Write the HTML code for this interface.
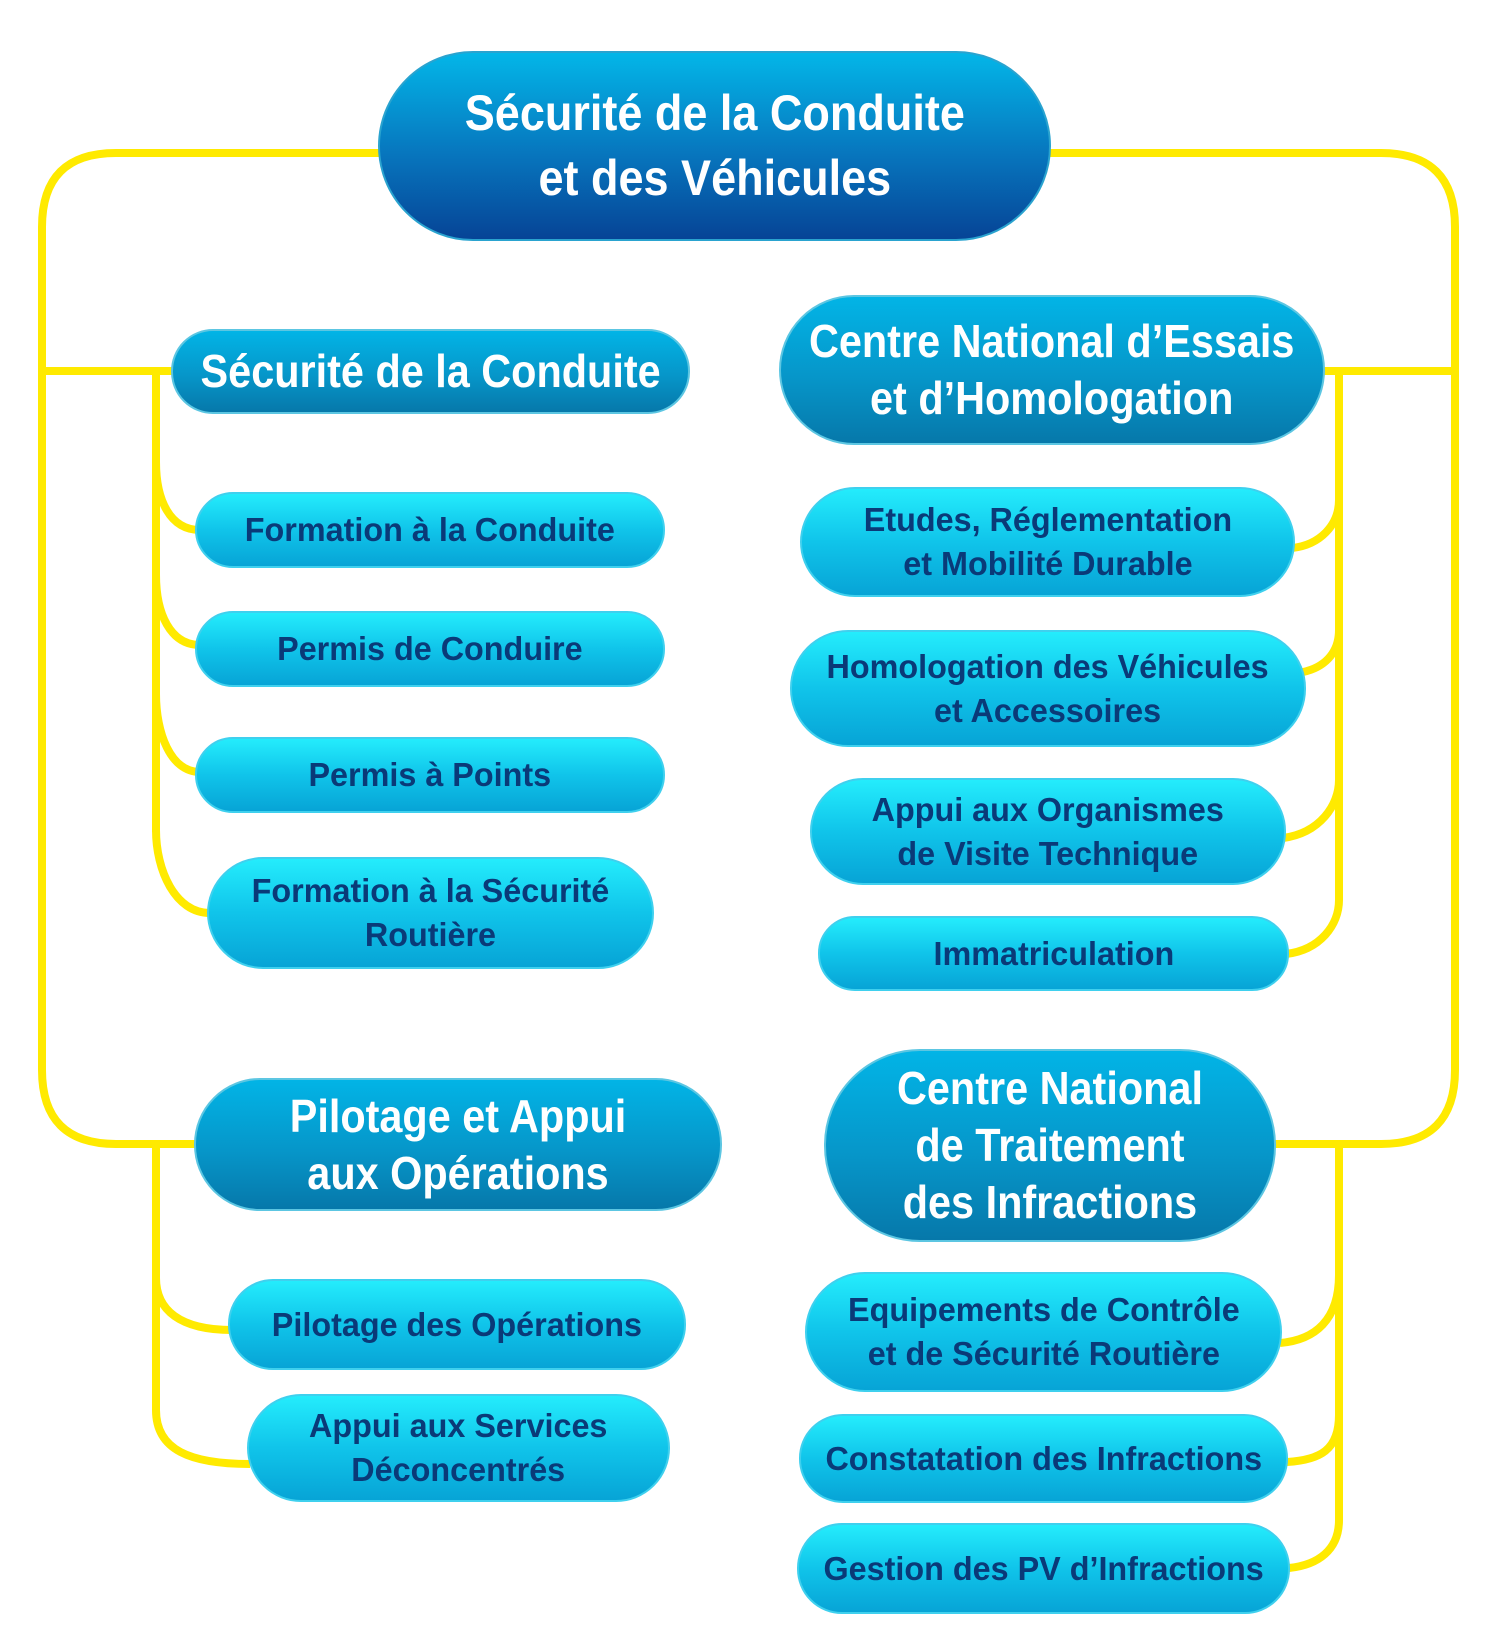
<!DOCTYPE html>
<html><head><meta charset="utf-8"><style>
html,body{margin:0;padding:0;background:#fff;}
body{width:1489px;height:1648px;position:relative;overflow:hidden;font-family:"Liberation Sans",sans-serif;}
.n{position:absolute;display:flex;align-items:center;justify-content:center;text-align:center;box-sizing:border-box;font-weight:bold;}
.n span{display:inline-block;white-space:nowrap;}
.root span,.l1 span{transform:scaleX(0.9);}
.root{background:linear-gradient(#03b6e8,#0775bd 55%,#064496);color:#fff;border:2px solid #2aa3cf;font-size:50px;line-height:65px;}
.l1{background:linear-gradient(#02b4e6,#0696c9 55%,#0678aa);color:#fff;border:2px solid #5cc6e2;font-size:46px;line-height:57px;}
.c{background:linear-gradient(#24ecfc,#10c4ea 50%,#07a4d6);color:#0a3a78;border:2px solid #3fd0ee;font-size:33px;line-height:44px;}
.c span{transform:scaleX(0.98);}
svg{position:absolute;left:0;top:0;}
</style></head><body>
<svg width="1489" height="1648" fill="none" stroke="#ffea00" stroke-width="8">
<path d="M380 153 H116 Q42 153 42 227 V1070 Q42 1144 116 1144 H200"/>
<path d="M1050 153 H1381 Q1455 153 1455 227 V1070 Q1455 1144 1381 1144 H1270"/>
<path d="M42 371 H175"/>
<path d="M1455 371 H1320"/>
<path d="M156 371 V832"/>
<path d="M156 462 C156 500 170 530 200 530"/>
<path d="M156 575 C156 613 170 645 200 645"/>
<path d="M156 694 C156 732 170 772 200 772"/>
<path d="M156 830 C156 870 175 913 210 913"/>
<path d="M1339 371 V900"/>
<path d="M1339 500 C1339 525 1320 545 1292 548"/>
<path d="M1339 630 C1339 655 1322 668 1303 672"/>
<path d="M1339 780 C1339 805 1320 833 1283 838"/>
<path d="M1339 900 C1339 925 1320 950 1286 954"/>
<path d="M156 1144 V1410"/>
<path d="M156 1278 C156 1310 180 1330 232 1330"/>
<path d="M156 1410 C156 1450 190 1464 250 1464"/>
<path d="M1339 1144 V1520"/>
<path d="M1339 1275 C1339 1320 1315 1340 1280 1343"/>
<path d="M1339 1415 C1339 1450 1320 1460 1287 1462"/>
<path d="M1339 1520 C1339 1550 1318 1565 1289 1568"/>
</svg>

<div class="n root" style="left:378px;top:51px;width:673px;height:190px;border-radius:95px;"><span>Sécurité de la Conduite<br>et des Véhicules</span></div>

<div class="n l1" style="left:171px;top:329px;width:519px;height:85px;border-radius:42px;"><span>Sécurité de la Conduite</span></div>
<div class="n c" style="left:195px;top:492px;width:470px;height:76px;border-radius:38px;"><span>Formation à la Conduite</span></div>
<div class="n c" style="left:195px;top:611px;width:470px;height:76px;border-radius:38px;"><span>Permis de Conduire</span></div>
<div class="n c" style="left:195px;top:737px;width:470px;height:76px;border-radius:38px;"><span>Permis à Points</span></div>
<div class="n c" style="left:207px;top:857px;width:447px;height:112px;border-radius:56px;"><span>Formation à la Sécurité<br>Routière</span></div>

<div class="n l1" style="left:779px;top:295px;width:546px;height:150px;border-radius:75px;"><span>Centre National d’Essais<br>et d’Homologation</span></div>
<div class="n c" style="left:800px;top:487px;width:495px;height:110px;border-radius:55px;"><span>Etudes, Réglementation<br>et Mobilité Durable</span></div>
<div class="n c" style="left:790px;top:630px;width:516px;height:117px;border-radius:58px;"><span>Homologation des Véhicules<br>et Accessoires</span></div>
<div class="n c" style="left:810px;top:778px;width:476px;height:107px;border-radius:53px;"><span>Appui aux Organismes<br>de Visite Technique</span></div>
<div class="n c" style="left:818px;top:916px;width:471px;height:75px;border-radius:37px;"><span>Immatriculation</span></div>

<div class="n l1" style="left:194px;top:1078px;width:528px;height:133px;border-radius:66px;"><span>Pilotage et Appui<br>aux Opérations</span></div>
<div class="n c" style="left:228px;top:1279px;width:458px;height:91px;border-radius:45px;"><span>Pilotage des Opérations</span></div>
<div class="n c" style="left:247px;top:1394px;width:423px;height:108px;border-radius:54px;"><span>Appui aux Services<br>Déconcentrés</span></div>

<div class="n l1" style="left:824px;top:1049px;width:452px;height:193px;border-radius:96px;"><span>Centre National<br>de Traitement<br>des Infractions</span></div>
<div class="n c" style="left:805px;top:1272px;width:477px;height:120px;border-radius:60px;"><span>Equipements de Contrôle<br>et de Sécurité Routière</span></div>
<div class="n c" style="left:799px;top:1414px;width:489px;height:89px;border-radius:44px;"><span>Constatation des Infractions</span></div>
<div class="n c" style="left:797px;top:1523px;width:493px;height:91px;border-radius:45px;"><span>Gestion des PV d’Infractions</span></div>
</body></html>
